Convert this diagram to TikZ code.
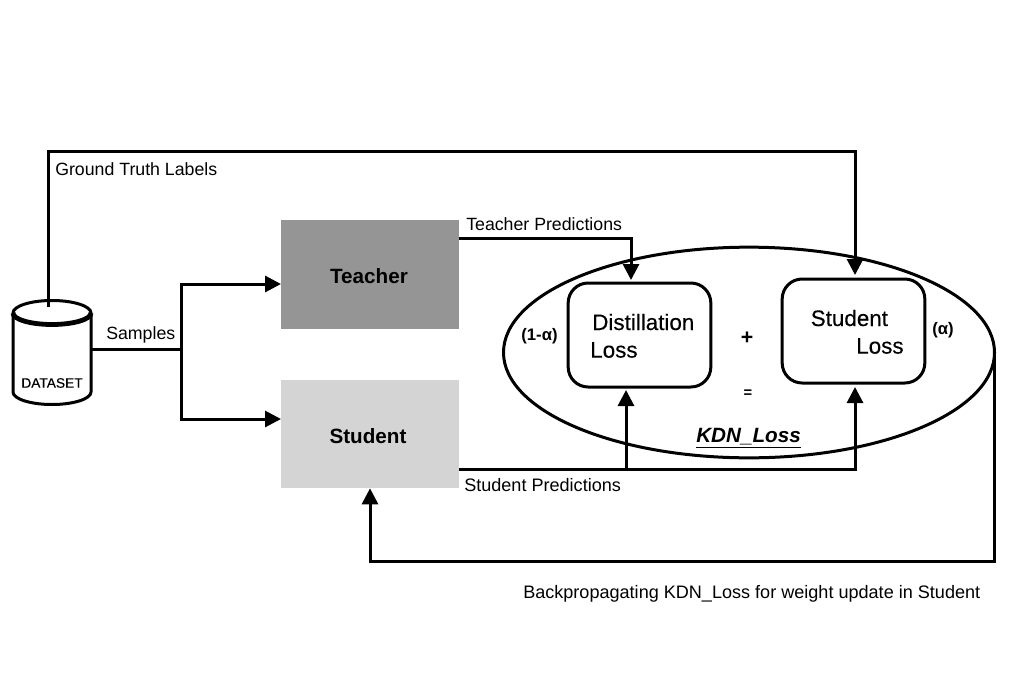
\documentclass[tikz,border=0pt]{standalone}
\usepackage{fontspec}
\setmainfont{Liberation Sans}
\newfontfamily\semibold[FakeBold=0.25]{Liberation Sans}
\usetikzlibrary{arrows.meta,shapes.geometric}
\definecolor{teachergray}{HTML}{959595}
\definecolor{studentgray}{HTML}{D4D4D4}
\tikzset{
  px/.style={x=0.75pt,y=-0.75pt},
  conn/.style={line width=2.25pt,-{Triangle[length=12pt,width=12pt]}},
  plain/.style={line width=2.25pt},
  block/.style={rectangle,minimum width=133.5pt,minimum height=81.5pt,inner sep=0pt,outer sep=0pt},
  blocktxt/.style={inner sep=0pt,font=\fontsize{15.5pt}{17pt}\selectfont\bfseries},
  lossbox/.style={rectangle,rounded corners=15pt,draw=black,line width=2.25pt,minimum width=107pt,minimum height=78pt,inner sep=0pt,outer sep=0pt},
  lbl/.style={inner sep=0pt,font=\fontsize{13.3pt}{15pt}\selectfont,anchor=west},
  lblwide/.style={inner sep=0pt,font=\fontsize{13.55pt}{15pt}\selectfont,anchor=west},
  losstxt/.style={inner sep=0pt,font=\fontsize{16.8pt}{18pt}\selectfont\semibold,anchor=west},
  bld/.style={inner sep=0pt,font=\fontsize{12.5pt}{14pt}\selectfont\bfseries},
}
\begin{document}
\begin{tikzpicture}[px]
\useasboundingbox (0,0) rectangle (1020,692);
% dataset cylinder
\node[minimum width=60pt,minimum height=70pt,inner sep=0pt,outer sep=0pt] (data) at (52,353) {};
\draw[line width=2.25pt,fill=white] (13,313) arc[start angle=180,end angle=360,x radius=39,y radius=12.5] -- (91,392) arc[start angle=0,end angle=180,x radius=39,y radius=12.5] -- cycle;
\draw[line width=3.6pt] (13,313) arc[start angle=180,end angle=0,x radius=39,y radius=11.5];
\node[inner sep=0pt,font=\fontsize{10.3pt}{12pt}\selectfont\semibold] (datalbl) at (52,383) {DATASET};
% blocks
\node[block,fill=teachergray] (teacher) at (370,274.5) {};
\node[block,fill=studentgray] (student) at (370,434) {};
\node[blocktxt] (teachertxt) at (369,276) {Teacher};
\node[blocktxt] (studenttxt) at (368,436) {Student};
% KDN ellipse and losses
\node[ellipse,draw=black,line width=2.25pt,minimum width=368.25pt,minimum height=158pt,inner sep=0pt,outer sep=0pt] (kdn) at (749,352.5) {};
\node[lossbox] (dist) at (639.5,335) {};
\node[lossbox] (sloss) at (853.5,331) {};
\node[losstxt] (d1) at (592,322) {Distillation};
\node[losstxt] (d2) at (590,350) {Loss};
\node[losstxt] (s1) at (810.5,318) {Student};
\node[losstxt] (s2) at (856,346) {Loss};
\node[bld] (oneminus) at (539.5,336) {(1-α)};
\node[bld] (alpha) at (943,330) {(α)};
\node[inner sep=0pt,font=\fontsize{16pt}{18pt}\selectfont\bfseries] (plus) at (747,338) {+};
\node[inner sep=0pt,font=\fontsize{11pt}{14pt}\selectfont\bfseries] (eq) at (748,394) {=};
\node[inner sep=0pt,font=\fontsize{15.5pt}{17pt}\selectfont\bfseries\itshape] (kdnlbl) at (748.5,438) {\underline{KDN\_Loss}};
% labels
\node[lbl] (gt) at (55,169) {Ground Truth Labels};
\node[lbl] (samples) at (106,334.5) {Samples};
\node[lbl] (tp) at (466,224) {Teacher Predictions};
\node[lblwide] (sp) at (464,485) {Student Predictions};
\node[lblwide] (bp) at (523,593.5) {Backpropagating KDN\_Loss for weight update in Student};
% routing coordinates
\coordinate (top) at (855,151);
\coordinate (split) at (181,349);
\coordinate (tbend) at (631,238);
\coordinate (sbus) at (855,469);
\coordinate (sbranch) at (626,469);
\coordinate (back) at (995,561);
\coordinate (tin) at (281,284);
\coordinate (sin) at (281,419);
% connectors
\draw[conn,shorten >=3pt] (48,307) -- (48,151) -- (top) -- (sloss.north -| top);
\draw[plain] (data.east |- split) -- (split);
\draw[conn] (split) |- (teacher.west |- tin);
\draw[conn] (split) |- (student.west |- sin);
\draw[conn,shorten >=2.25pt] (teacher.east |- tbend) -- (tbend) -- (tbend |- dist.north);
\draw[conn,shorten >=3pt] (student.east |- sbus) -- (sbus) -- (sbus |- sloss.south);
\draw[conn,shorten >=2.25pt] (sbranch) -- (sbranch |- dist.south);
\draw[conn] (kdn.east) -- (kdn.east |- back) -- (student.south |- back) -- (student.south);
\end{tikzpicture}
\end{document}
